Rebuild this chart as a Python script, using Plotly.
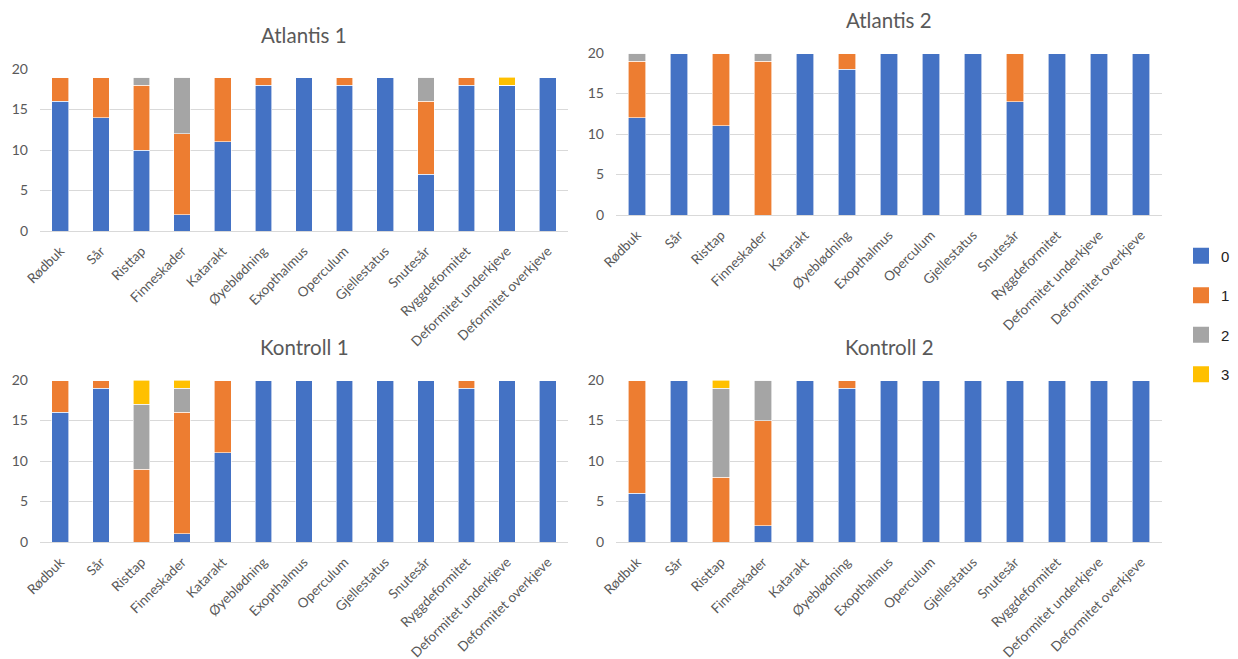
import plotly.graph_objects as go

categories = ["Rødbuk", "Sår", "Risttap", "Finneskader", "Katarakt", "Øyeblødning",
              "Exopthalmus", "Operculum", "Gjellestatus", "Snutesår", "Ryggdeformitet",
              "Deformitet underkjeve", "Deformitet overkjeve"]
series_names = ["0", "1", "2", "3"]
colors = ["#4472C4", "#ED7D31", "#A5A5A5", "#FFC000"]

atlantis1_0 = [16, 14, 10, 2, 11, 18, 19, 18, 19, 7, 18, 18, 19]
atlantis1_1 = [3, 5, 8, 10, 8, 1, 0, 1, 0, 9, 1, 0, 0]
atlantis1_2 = [0, 0, 1, 7, 0, 0, 0, 0, 0, 3, 0, 0, 0]
atlantis1_3 = [0, 0, 0, 0, 0, 0, 0, 0, 0, 0, 0, 1, 0]

atlantis2_0 = [12, 20, 11, 0, 20, 18, 20, 20, 20, 14, 20, 20, 20]
atlantis2_1 = [7, 0, 9, 19, 0, 2, 0, 0, 0, 6, 0, 0, 0]
atlantis2_2 = [1, 0, 0, 1, 0, 0, 0, 0, 0, 0, 0, 0, 0]
atlantis2_3 = [0, 0, 0, 0, 0, 0, 0, 0, 0, 0, 0, 0, 0]

kontroll1_0 = [16, 19, 0, 1, 11, 20, 20, 20, 20, 20, 19, 20, 20]
kontroll1_1 = [4, 1, 9, 15, 9, 0, 0, 0, 0, 0, 1, 0, 0]
kontroll1_2 = [0, 0, 8, 3, 0, 0, 0, 0, 0, 0, 0, 0, 0]
kontroll1_3 = [0, 0, 3, 1, 0, 0, 0, 0, 0, 0, 0, 0, 0]

kontroll2_0 = [6, 20, 0, 2, 20, 19, 20, 20, 20, 20, 20, 20, 20]
kontroll2_1 = [14, 0, 8, 13, 0, 1, 0, 0, 0, 0, 0, 0, 0]
kontroll2_2 = [0, 0, 11, 5, 0, 0, 0, 0, 0, 0, 0, 0, 0]
kontroll2_3 = [0, 0, 1, 0, 0, 0, 0, 0, 0, 0, 0, 0, 0]

panels = [
    ("Atlantis 1", [atlantis1_0, atlantis1_1, atlantis1_2, atlantis1_3]),
    ("Atlantis 2", [atlantis2_0, atlantis2_1, atlantis2_2, atlantis2_3]),
    ("Kontroll 1", [kontroll1_0, kontroll1_1, kontroll1_2, kontroll1_3]),
    ("Kontroll 2", [kontroll2_0, kontroll2_1, kontroll2_2, kontroll2_3]),
]

# the page body has an 8px margin; work in page pixels and convert
OFF = 8
W, H = 1238 - OFF, 659 - OFF
def px(x):
    return (x - OFF) / W
def py(y):
    return 1 - (y - OFF) / H

# (x0, x1, ybottom, ytop, title_y) in page pixels
geoms = [
    (40, 568, 231, 69, 35),
    (616, 1162, 215, 53, 20),
    (40, 568, 542, 380, 347),
    (616, 1162, 542, 380, 347),
]

FONT = "Lato"
GRAY = "#595959"

fig = go.Figure()
layout = dict(
    width=W, height=H, margin=dict(l=0, r=0, t=0, b=0, autoexpand=False),
    paper_bgcolor="white", plot_bgcolor="white",
    barmode="stack", bargap=0.59,
    font=dict(family=FONT, color=GRAY, size=12),
    annotations=[],
)

for i, ((title, vals), (x0, x1, yb, yt, ty)) in enumerate(zip(panels, geoms)):
    n = "" if i == 0 else str(i + 1)
    for s, (name, col, v) in enumerate(zip(series_names, colors, vals)):
        fig.add_trace(go.Bar(
            x=categories, y=v, name=name,
            marker=dict(color=col, line=dict(color="white", width=0.6)),
            showlegend=False, xaxis="x" + n, yaxis="y" + n,
        ))
    layout["xaxis" + n] = dict(
        domain=[px(x0), px(x1)], anchor="y" + n, tickangle=-45,
        showline=True, linecolor="#d9d9d9", linewidth=1, ticks="",
        ticklabelstandoff=6,
        tickfont=dict(size=13.5, color=GRAY, family=FONT), fixedrange=True,
    )
    layout["yaxis" + n] = dict(
        domain=[py(yb), py(yt)], anchor="x" + n, range=[0, 20], dtick=5,
        showgrid=True, gridcolor="#d9d9d9", gridwidth=1, zeroline=False,
        ticklabelstandoff=11,
        tickfont=dict(size=14, color=GRAY, family=FONT), ticks="", ticklen=0,
    )
    layout["annotations"].append(dict(
        text=title, xref="paper", yref="paper", x=(px(x0) + px(x1)) / 2, y=py(ty),
        xanchor="center", yanchor="middle", showarrow=False,
        font=dict(size=20.5, color=GRAY, family=FONT),
    ))

for s, (name, col) in enumerate(zip(series_names, colors)):
    fig.add_trace(go.Scatter(
        x=[None], y=[None], mode="markers", name=name, legendgroup=name,
        marker=dict(symbol="square", size=18, color=col), showlegend=True,
    ))

layout["legend"] = dict(
    x=px(1181), y=py(315), xanchor="left", yanchor="middle",
    font=dict(size=15, color="#222222", family="Liberation Sans"),
    tracegroupgap=17, bgcolor="rgba(0,0,0,0)",
)
fig.update_layout(**layout)
fig.write_html("out.html")
